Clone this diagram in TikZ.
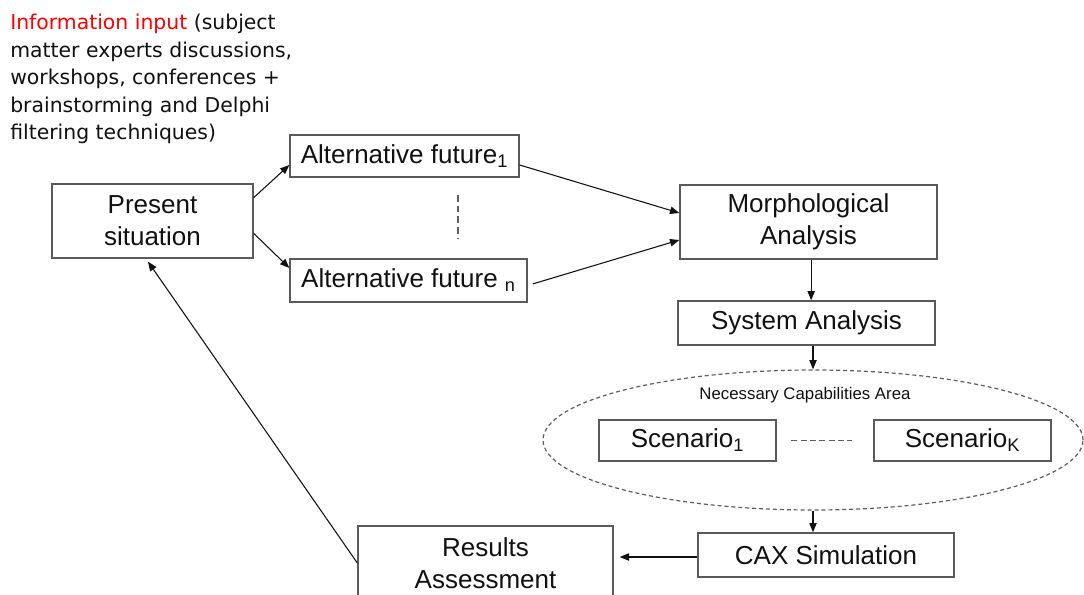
\documentclass[tikz,border=0pt]{standalone}
\usepackage{fontspec}
\setmainfont{Liberation Sans}
\newfontfamily\infofont{DejaVu Sans}
\usetikzlibrary{arrows.meta,calc,positioning,shapes.geometric}
\definecolor{FlowInk}{HTML}{111111}
\definecolor{FlowFrame}{HTML}{5A5A5A}
\definecolor{FlowDash}{HTML}{5E5E5E}
\definecolor{FlowRed}{HTML}{FF0000}
\tikzset{
  every node/.style={text=FlowInk},
  stage/.style={draw=FlowFrame, line width=1pt, fill=white, inner sep=0pt,
    align=center, font=\fontsize{19.5pt}{24pt}\selectfont},
  zone/.style={draw=FlowDash, line width=0.9pt, dash pattern=on 3pt off 2.2pt,
    ellipse, inner sep=0pt},
  flow/.style={-{Triangle[length=7pt,width=5.5pt]}, draw=FlowInk, line width=0.8pt},
  gap/.style={draw=FlowDash, line width=0.9pt, dash pattern=on 5pt off 3pt},
}
\begin{document}
\begin{tikzpicture}[x=0.75pt, y=-0.75pt]
  \clip (0,0) rectangle (1084,595);
  \fill[white] (0,0) rectangle (1084,595);
  % Information input note
  \node[anchor=north west, inner sep=0pt, align=left,
    font=\infofont\fontsize{15.3pt}{20.6pt}\selectfont] (info) at (10,14)
    {\textcolor{FlowRed}{Information input} (subject\\
     matter experts discussions,\\
     workshops, conferences +\\
     brainstorming and Delphi\\
     filtering techniques)};
  % Left part: present and alternative futures
  \node[stage, minimum width=150.75pt, minimum height=55.5pt] (pres) at (152.5,221)
    {Present\\situation};
  \node[stage, minimum width=171.75pt, minimum height=31.5pt] (alt1) at (404.5,156)
    {Alternative future\textsubscript{1}};
  \node[stage, minimum width=177.75pt, minimum height=32.25pt] (altn) at (408.5,280.5)
    {Alternative future \textsubscript{n}};
  \coordinate (gapTop) at (458,195);
  \coordinate (gapBot) at (458,238);
  \draw[gap] (gapTop) -- (gapBot);
  % Right column
  \node[stage, minimum width=192.75pt, minimum height=55.5pt] (morph) at (808.5,222)
    {Morphological\\Analysis};
  \node[stage, minimum width=192.75pt, minimum height=33pt] (sysan) at (806.5,323)
    {System Analysis};
  \node[zone, minimum width=405pt, minimum height=105pt] (area) at (813,440) {};
  \node[font=\fontsize{12.6pt}{15pt}\selectfont] (arealabel) at (805,395)
    {Necessary Capabilities Area};
  \node[stage, minimum width=132.75pt, minimum height=30.75pt] (scen1) at (687.5,440.5)
    {Scenario\textsubscript{1}};
  \node[stage, minimum width=132.75pt, minimum height=30.75pt] (scenk) at (962.5,440.5)
    {Scenario\textsubscript{K}};
  \draw[gap, dash pattern=on 4.5pt off 2.5pt, shorten <=11pt, shorten >=15.75pt]
    (scen1.east) -- (scenk.west);
  \node[stage, minimum width=192pt, minimum height=33pt] (cax) at (826,555)
    {CAX Simulation};
  \node[stage, minimum width=191.25pt, minimum height=55.5pt] (results) at (485.5,563)
    {Results\\Assessment};
  % Connectors
  \draw[flow] ([yshift=17.5pt]pres.east) -- ([yshift=-6.75pt]alt1.west);
  \draw[flow] ([yshift=-9.25pt]pres.east) -- ([yshift=9.4pt]altn.west);
  \draw[flow] ([yshift=-6.75pt]alt1.east) -- ([yshift=6.75pt]morph.west);
  \draw[flow] ([xshift=3.75pt,yshift=-2.6pt]altn.east) -- ([yshift=-13.5pt]morph.west);
  \draw[flow] ([xshift=2pt]morph.south) -- ([xshift=2pt]morph.south |- sysan.north);
  \draw[flow] (area.north |- sysan.south) -- (area.north);
  \draw[flow] (area.south) -- (area.south |- cax.north);
  \draw[flow] ([yshift=-1.5pt]cax.west) -- ([xshift=4.5pt,yshift=-1.5pt]results.east |- cax.west);
  \draw[flow] (results.west) -- ([xshift=-3.4pt,yshift=-2.2pt]pres.south);
\end{tikzpicture}
\end{document}
